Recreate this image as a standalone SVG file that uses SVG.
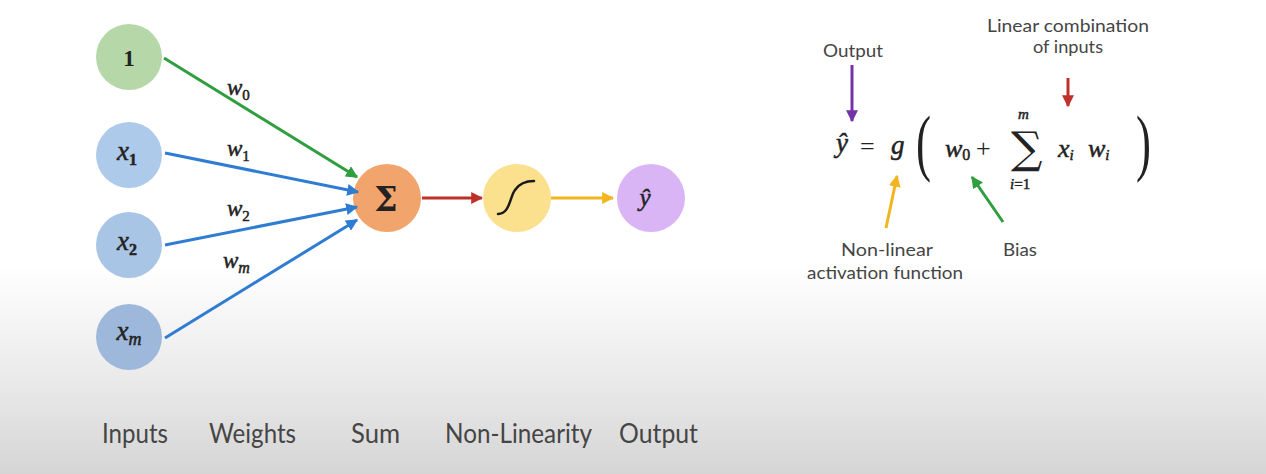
<svg xmlns="http://www.w3.org/2000/svg" width="1266" height="474" viewBox="0 0 1266 474">
  <defs>
    <linearGradient id="bg" x1="0" y1="0" x2="0" y2="1">
      <stop offset="0" stop-color="#ffffff"/>
      <stop offset="0.56" stop-color="#ffffff"/>
      <stop offset="0.8" stop-color="#eaeaea"/>
      <stop offset="1" stop-color="#d5d5d5"/>
    </linearGradient>
    <marker id="ah-green" viewBox="0 0 10 10" refX="9" refY="5" markerWidth="4" markerHeight="4" orient="auto"><path d="M0,0 L10,5 L0,10 z" fill="#2e9e3e"/></marker>
    <marker id="ah-blue" viewBox="0 0 10 10" refX="9" refY="5" markerWidth="4" markerHeight="4" orient="auto"><path d="M0,0 L10,5 L0,10 z" fill="#2f7cd3"/></marker>
    <marker id="ah-red" viewBox="0 0 10 10" refX="9" refY="5" markerWidth="4" markerHeight="4" orient="auto"><path d="M0,0 L10,5 L0,10 z" fill="#c0302a"/></marker>
    <marker id="ah-yellow" viewBox="0 0 10 10" refX="9" refY="5" markerWidth="4" markerHeight="4" orient="auto"><path d="M0,0 L10,5 L0,10 z" fill="#f2b520"/></marker>
    <marker id="ah-purple" viewBox="0 0 10 10" refX="9" refY="5" markerWidth="4" markerHeight="4" orient="auto"><path d="M0,0 L10,5 L0,10 z" fill="#7434a8"/></marker>
  </defs>
  <style>
    .math { font-family: "Liberation Serif", "DejaVu Serif", serif; font-style: italic; fill: #222; stroke: #222; stroke-width: 0.5; }
    .up { font-family: "Liberation Serif", "DejaVu Serif", serif; fill: #222; }
    .sym { font-family: "DejaVu Serif", "Liberation Serif", serif; fill: #222; }
    .lbl { font-family: Lato, "Open Sans", "Liberation Sans", sans-serif; fill: #454545; }
    .node-label { text-anchor: middle; }
    .edge { fill: none; stroke-width: 3; }
  </style>

  <rect x="0" y="0" width="1266" height="474" fill="url(#bg)"/>

  <!-- input nodes -->
  <g id="node-bias">
    <circle cx="129" cy="57" r="33" fill="#b6d7a8"/>
    <text x="129" y="66" class="up node-label" font-size="23" font-weight="bold">1</text>
  </g>
  <g id="node-x1">
    <circle cx="129" cy="155" r="33" fill="#aecaea"/>
    <text x="127" y="160" class="math node-label" font-size="27">x<tspan font-size="16" dy="5" font-style="normal" font-weight="bold">1</tspan></text>
  </g>
  <g id="node-x2">
    <circle cx="129" cy="245" r="33" fill="#a9c5e6"/>
    <text x="127" y="250" class="math node-label" font-size="27">x<tspan font-size="16" dy="5" font-style="normal" font-weight="bold">2</tspan></text>
  </g>
  <g id="node-xm">
    <circle cx="129" cy="337" r="33" fill="#9db8da"/>
    <text x="129" y="340" class="math node-label" font-size="27">x<tspan font-size="18" dy="5">m</tspan></text>
  </g>

  <!-- processing nodes -->
  <g id="node-sum">
    <circle cx="387" cy="198" r="34" fill="#f1a46c"/>
    <text x="386" y="211" class="sym node-label" font-size="33" font-weight="bold">Σ</text>
  </g>
  <g id="node-activation">
    <circle cx="517" cy="198" r="34" fill="#fbe08e"/>
    <path d="M498,214 C510,214 510,196 515,190 C519,184 524,181 534,181" fill="none" stroke="#1a1a1a" stroke-width="2.5" stroke-linecap="round"/>
  </g>
  <g id="node-output">
    <circle cx="651" cy="198" r="34" fill="#dab5f5"/>
    <text x="645" y="206" class="math node-label" font-size="25">ŷ</text>
  </g>

  <!-- connectors -->
  <g id="connectors">
    <line x1="164" y1="58" x2="357" y2="177" class="edge" stroke="#2e9e3e" marker-end="url(#ah-green)"/>
    <line x1="165" y1="153" x2="358" y2="192" class="edge" stroke="#2f7cd3" marker-end="url(#ah-blue)"/>
    <line x1="165" y1="245" x2="357" y2="207" class="edge" stroke="#2f7cd3" marker-end="url(#ah-blue)"/>
    <line x1="165" y1="338" x2="357" y2="220" class="edge" stroke="#2f7cd3" marker-end="url(#ah-blue)"/>
    <line x1="422" y1="198" x2="482" y2="198" class="edge" stroke="#c0302a" marker-end="url(#ah-red)"/>
    <line x1="551" y1="198" x2="613" y2="198" class="edge" stroke="#f2b520" marker-end="url(#ah-yellow)"/>

    <!-- equation annotations -->
    <line x1="852" y1="65" x2="852" y2="121" class="edge" stroke="#7434a8" marker-end="url(#ah-purple)"/>
    <line x1="1068" y1="78" x2="1068" y2="106" class="edge" stroke="#c0302a" marker-end="url(#ah-red)"/>
    <line x1="886" y1="228" x2="897" y2="176" class="edge" stroke="#f2b520" marker-end="url(#ah-yellow)"/>
    <line x1="1003" y1="222" x2="972" y2="177" class="edge" stroke="#2e9e3e" marker-end="url(#ah-green)"/>
  </g>

  <!-- weight labels -->
  <g id="weights">
    <text x="227" y="95" class="math" font-size="23">w<tspan font-size="15" dy="5" font-style="normal">0</tspan></text>
    <text x="227" y="156" class="math" font-size="23">w<tspan font-size="15" dy="5" font-style="normal">1</tspan></text>
    <text x="227" y="216" class="math" font-size="23">w<tspan font-size="15" dy="5" font-style="normal">2</tspan></text>
    <text x="223" y="268" class="math" font-size="23">w<tspan font-size="16" dy="5">m</tspan></text>
  </g>

  <!-- equation -->
  <g id="equation">
    <text x="836" y="152" class="math" font-size="27">ŷ</text>
    <text x="860" y="155" class="up" font-size="26">=</text>
    <text x="891" y="154" class="math" font-size="27">g</text>
    <text x="0" y="0" class="up" font-size="60" transform="translate(916,167) scale(0.75,1.25)">(</text>
    <text x="945" y="157" class="math" font-size="26">w<tspan font-size="16" dy="3" font-style="normal">0</tspan></text>
    <text x="976" y="157" class="up" font-size="26">+</text>
    <text x="1011" y="163" class="sym" font-size="44">∑</text>
    <text x="1018" y="119" class="math" font-size="15">m</text>
    <text x="1010" y="189" class="math" font-size="15">i<tspan font-style="normal">=1</tspan></text>
    <text x="1058" y="157" class="math" font-size="26">x<tspan font-size="15" dy="3">i</tspan></text>
    <text x="1088" y="157" class="math" font-size="26">w<tspan font-size="15" dy="3">i</tspan></text>
    <text x="0" y="0" class="up" font-size="60" transform="translate(1136,167) scale(0.75,1.25)">)</text>
  </g>

  <!-- equation captions -->
  <g id="captions">
    <text x="853" y="57" class="lbl" font-size="18" text-anchor="middle" textLength="60" lengthAdjust="spacingAndGlyphs">Output</text>
    <text x="1068" y="32" class="lbl" font-size="18" text-anchor="middle" textLength="162" lengthAdjust="spacingAndGlyphs">Linear combination</text>
    <text x="1068" y="53" class="lbl" font-size="18" text-anchor="middle" textLength="70" lengthAdjust="spacingAndGlyphs">of inputs</text>
    <text x="887" y="256" class="lbl" font-size="18" text-anchor="middle" textLength="92" lengthAdjust="spacingAndGlyphs">Non-linear</text>
    <text x="885" y="279" class="lbl" font-size="18" text-anchor="middle" textLength="156" lengthAdjust="spacingAndGlyphs">activation function</text>
    <text x="1020" y="256" class="lbl" font-size="18" text-anchor="middle" textLength="34" lengthAdjust="spacingAndGlyphs">Bias</text>
  </g>

  <!-- column labels -->
  <g id="columns">
    <text x="102" y="443" class="lbl" font-size="27" textLength="66" lengthAdjust="spacingAndGlyphs">Inputs</text>
    <text x="209" y="443" class="lbl" font-size="27" textLength="87" lengthAdjust="spacingAndGlyphs">Weights</text>
    <text x="351" y="443" class="lbl" font-size="27" textLength="49" lengthAdjust="spacingAndGlyphs">Sum</text>
    <text x="445" y="443" class="lbl" font-size="27" textLength="147" lengthAdjust="spacingAndGlyphs">Non-Linearity</text>
    <text x="619" y="443" class="lbl" font-size="27" textLength="79" lengthAdjust="spacingAndGlyphs">Output</text>
  </g>
</svg>
